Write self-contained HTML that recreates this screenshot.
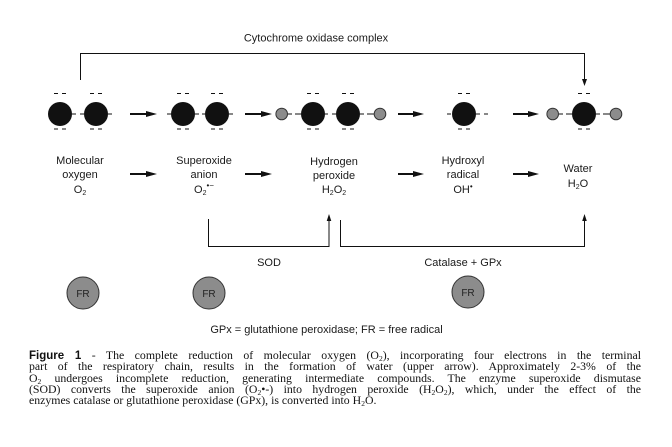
<!DOCTYPE html>
<html>
<head>
<meta charset="utf-8">
<style>
  html,body{margin:0;padding:0;background:#fff;}
  body{width:672px;height:447px;position:relative;overflow:hidden;font-family:"Liberation Sans",sans-serif;color:#1a1a1a;}
  svg{position:absolute;left:0;top:0;}
  .cap{position:absolute;left:29px;top:350px;width:612px;font-family:"Liberation Serif",serif;font-size:11.8px;line-height:11.25px;color:#111;}
  .cap div{text-align:justify;text-align-last:justify;height:11.25px;white-space:nowrap;}
  .cap div.last{text-align-last:left;}
  .cap sub{font-size:7.5px;vertical-align:-2px;line-height:0;}
  .cap b{font-family:"Liberation Sans",sans-serif;font-weight:bold;font-size:11.5px;}
</style>
</head>
<body>
<svg width="672" height="447" viewBox="0 0 672 447" xmlns="http://www.w3.org/2000/svg" font-family="Liberation Sans, sans-serif" fill="#1a1a1a">
  <text x="316" y="41.5" font-size="11" text-anchor="middle">Cytochrome oxidase complex</text>
  <path d="M80.5,80 V53.5 H584.5 V80" fill="none" stroke="#111" stroke-width="1"/>
  <polygon points="582,79 587,79 584.5,86" fill="#111"/>

  <g stroke="#111" stroke-width="1">
    <line x1="54" y1="93.5" x2="58" y2="93.5"/><line x1="62" y1="93.5" x2="66" y2="93.5"/>
    <line x1="54" y1="129" x2="58" y2="129"/><line x1="62" y1="129" x2="66" y2="129"/>
    <line x1="90" y1="93.5" x2="94" y2="93.5"/><line x1="98" y1="93.5" x2="102" y2="93.5"/>
    <line x1="90" y1="129" x2="94" y2="129"/><line x1="98" y1="129" x2="102" y2="129"/>

    <line x1="177" y1="93.5" x2="181" y2="93.5"/><line x1="185" y1="93.5" x2="189" y2="93.5"/>
    <line x1="177" y1="129" x2="181" y2="129"/><line x1="185" y1="129" x2="189" y2="129"/>
    <line x1="211" y1="93.5" x2="215" y2="93.5"/><line x1="219" y1="93.5" x2="223" y2="93.5"/>
    <line x1="211" y1="129" x2="215" y2="129"/><line x1="219" y1="129" x2="223" y2="129"/>

    <line x1="307" y1="93.5" x2="311" y2="93.5"/><line x1="315" y1="93.5" x2="319" y2="93.5"/>
    <line x1="307" y1="129" x2="311" y2="129"/><line x1="315" y1="129" x2="319" y2="129"/>
    <line x1="342" y1="93.5" x2="346" y2="93.5"/><line x1="350" y1="93.5" x2="354" y2="93.5"/>
    <line x1="342" y1="129" x2="346" y2="129"/><line x1="350" y1="129" x2="354" y2="129"/>

    <line x1="458" y1="93.5" x2="462" y2="93.5"/><line x1="466" y1="93.5" x2="470" y2="93.5"/>
    <line x1="458" y1="129" x2="462" y2="129"/><line x1="466" y1="129" x2="470" y2="129"/>

    <line x1="578" y1="93.5" x2="582" y2="93.5"/><line x1="586" y1="93.5" x2="590" y2="93.5"/>
    <line x1="578" y1="129" x2="582" y2="129"/><line x1="586" y1="129" x2="590" y2="129"/>

    <line x1="72" y1="114" x2="76" y2="114"/><line x1="80" y1="114" x2="84" y2="114"/>
    <line x1="108" y1="114" x2="112" y2="114"/>

    <line x1="167" y1="114" x2="171" y2="114"/>
    <line x1="195" y1="114" x2="199" y2="114"/><line x1="202" y1="114" x2="205" y2="114"/>
    <line x1="229" y1="114" x2="233" y2="114"/>

    <line x1="288" y1="114" x2="292" y2="114"/><line x1="295" y1="114" x2="301" y2="114"/>
    <line x1="325" y1="114" x2="328" y2="114"/><line x1="332" y1="114" x2="336" y2="114"/>
    <line x1="360" y1="114" x2="364" y2="114"/><line x1="367" y1="114" x2="374" y2="114"/>

    <line x1="447" y1="114" x2="451" y2="114"/>
    <line x1="476" y1="114" x2="480" y2="114"/><line x1="484" y1="114" x2="488" y2="114"/>

    <line x1="559" y1="114" x2="563" y2="114"/><line x1="566" y1="114" x2="572" y2="114"/>
    <line x1="596" y1="114" x2="600" y2="114"/><line x1="603" y1="114" x2="610" y2="114"/>
  </g>

  <g fill="#111">
    <circle cx="60" cy="114" r="12"/>
    <circle cx="96" cy="114" r="12"/>
    <circle cx="183" cy="114" r="12"/>
    <circle cx="217" cy="114" r="12"/>
    <circle cx="313" cy="114" r="12"/>
    <circle cx="348" cy="114" r="12"/>
    <circle cx="464" cy="114" r="12"/>
    <circle cx="584" cy="114" r="12"/>
  </g>
  <g fill="#8c8c8c" stroke="#333" stroke-width="1">
    <circle cx="281.7" cy="114" r="5.8"/>
    <circle cx="380" cy="114" r="5.8"/>
    <circle cx="552.7" cy="114" r="5.8"/>
    <circle cx="616" cy="114" r="5.8"/>
  </g>

  <g fill="#111">
    <rect x="130" y="113" width="18" height="2"/><polygon points="146,111 157,114 146,117"/>
    <rect x="245" y="113" width="18" height="2"/><polygon points="261,111 272,114 261,117"/>
    <rect x="398" y="113" width="17" height="2"/><polygon points="413,111 424,114 413,117"/>
    <rect x="513" y="113" width="17" height="2"/><polygon points="528,111 539,114 528,117"/>

    <rect x="130" y="173" width="18" height="2"/><polygon points="146,171 157,174 146,177"/>
    <rect x="245" y="173" width="18" height="2"/><polygon points="261,171 272,174 261,177"/>
    <rect x="398" y="173" width="17" height="2"/><polygon points="413,171 424,174 413,177"/>
    <rect x="513" y="173" width="17" height="2"/><polygon points="528,171 539,174 528,177"/>
  </g>

  <g font-size="11" text-anchor="middle">
    <text x="80" y="164">Molecular</text>
    <text x="80" y="178">oxygen</text>
    <text x="80" y="193">O<tspan font-size="7" dy="2">2</tspan></text>

    <text x="204" y="164">Superoxide</text>
    <text x="204" y="178">anion</text>
    <text x="204" y="193">O<tspan font-size="7" dy="2">2</tspan><tspan font-size="8" dy="-7">•−</tspan></text>

    <text x="334" y="165">Hydrogen</text>
    <text x="334" y="179">peroxide</text>
    <text x="334" y="193">H<tspan font-size="7" dy="2">2</tspan><tspan dy="-2">O</tspan><tspan font-size="7" dy="2">2</tspan></text>

    <text x="463" y="164">Hydroxyl</text>
    <text x="463" y="178">radical</text>
    <text x="463" y="193">OH<tspan font-size="8" dy="-4">•</tspan></text>

    <text x="578" y="172">Water</text>
    <text x="578" y="187">H<tspan font-size="7" dy="2">2</tspan><tspan dy="-2">O</tspan></text>
  </g>

  <path d="M208.5,219 V246.5 H329 V220" fill="none" stroke="#111" stroke-width="1"/>
  <polygon points="326.7,221 331.3,221 329,214" fill="#111"/>
  <path d="M340.5,220 V246.5 H584.5 V220" fill="none" stroke="#111" stroke-width="1"/>
  <polygon points="582.2,221 586.8,221 584.5,214" fill="#111"/>
  <text x="269" y="266" font-size="11" text-anchor="middle">SOD</text>
  <text x="463" y="266" font-size="11" text-anchor="middle">Catalase + GPx</text>

  <g fill="#8c8c8c" stroke="#333" stroke-width="1">
    <circle cx="83" cy="293" r="16"/>
    <circle cx="209" cy="293" r="16"/>
    <circle cx="468" cy="292" r="16"/>
  </g>
  <g font-size="10" text-anchor="middle" fill="#222">
    <text x="83" y="297">FR</text>
    <text x="209" y="297">FR</text>
    <text x="468" y="296">FR</text>
  </g>

  <text x="326.5" y="333" font-size="11" text-anchor="middle">GPx = glutathione peroxidase; FR = free radical</text>
</svg>

<div class="cap">
  <div><b>Figure 1</b> - The complete reduction of molecular oxygen (O<sub>2</sub>), incorporating four electrons in the terminal</div>
  <div>part of the respiratory chain, results in the formation of water (upper arrow). Approximately 2-3% of the</div>
  <div>O<sub>2</sub> undergoes incomplete reduction, generating intermediate compounds. The enzyme superoxide dismutase</div>
  <div>(SOD) converts the superoxide anion (O<sub>2</sub>•-) into hydrogen peroxide (H<sub>2</sub>O<sub>2</sub>), which, under the effect of the</div>
  <div class="last">enzymes catalase or glutathione peroxidase (GPx), is converted into H<sub>2</sub>O.</div>
</div>
</body>
</html>
